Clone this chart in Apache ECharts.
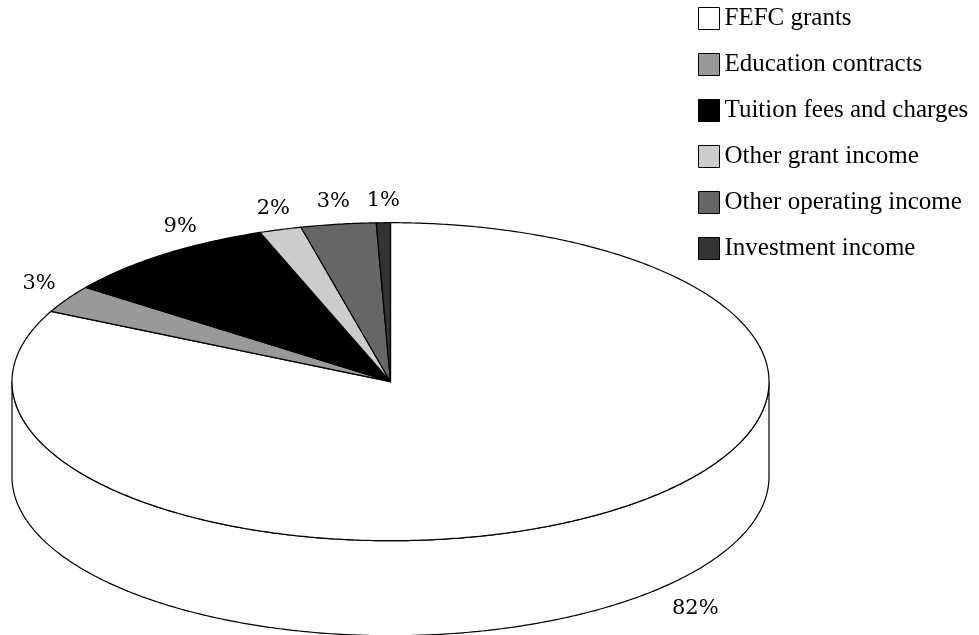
<!DOCTYPE html>
<html>
<head>
<meta charset="utf-8">
<script src="https://cdn.jsdelivr.net/npm/echarts@6/dist/echarts.min.js"></script>
<style>
  html, body { margin: 0; padding: 0; background: #fff; }
  #chart { width: 979px; height: 635px; }
</style>
</head>
<body>
<div id="chart"></div>
<script>
// Income sources and their shares of total income (%)
const categories = [
  'FEFC grants',
  'Education contracts',
  'Tuition fees and charges',
  'Other grant income',
  'Other operating income',
  'Investment income'
];
const shares = [82.3, 2.8, 9.3, 1.8, 3.2, 0.6];
const sliceColors = ['#ffffff', '#999999', '#000000', '#cccccc', '#666666', '#333333'];

// Tilted disc layout: centre, horizontal/vertical radii and wall height
const disc = { cx: 390.5, cy: 381.7, rx: 378.5, ry: 159, depth: 95 };
// Per-slice label shift away from the rim point at the slice's mid angle
const labelNudge = [[105, -3.5], [-28, -16], [17, -28], [-7, -21], [-5, -23], [0, -22]];

// Cumulative angles, clockwise from 12 o'clock
const total = shares.reduce((a, b) => a + b, 0);
let running = 0;
const spans = shares.map(v => {
  const start = running / total * 360;
  running += v;
  return [start, running / total * 360, v];
});

function rimPoint(deg, drop) {
  const r = deg * Math.PI / 180;
  return [disc.cx + disc.rx * Math.sin(r), disc.cy - disc.ry * Math.cos(r) + (drop || 0)];
}
function rimArc(a0, a1, drop) {
  const n = Math.max(2, Math.ceil(Math.abs(a1 - a0) / 0.5));
  const pts = [];
  for (let i = 0; i <= n; i++) pts.push(rimPoint(a0 + (a1 - a0) * i / n, drop));
  return pts;
}

function renderSlice(idx) {
  return function (params, api) {
    const a0 = api.value(0), a1 = api.value(1), v = api.value(2);
    const fill = sliceColors[idx];
    const children = [];
    // visible wall: the part of the slice on the near half (90°..270°)
    const f0 = Math.max(a0, 90), f1 = Math.min(a1, 270);
    if (f1 > f0) {
      const pts = rimArc(f0, f1, 0).concat(rimArc(f1, f0, disc.depth));
      children.push({
        type: 'polygon', z2: 1,
        shape: { points: pts },
        style: { fill: fill, stroke: '#000', lineWidth: 1.2, lineJoin: 'round' }
      });
    }
    // top face
    const face = [[disc.cx, disc.cy]].concat(rimArc(a0, a1, 0));
    children.push({
      type: 'polygon', z2: 2,
      shape: { points: face },
      style: { fill: fill, stroke: '#000', lineWidth: 1.2, lineJoin: 'round' }
    });
    // percentage label
    const mid = (a0 + a1) / 2;
    const near = Math.cos(mid * Math.PI / 180) < 0;
    const anchor = rimPoint(mid, near ? disc.depth : 0);
    children.push({
      type: 'text', z2: 3,
      style: {
        text: Math.round(v / total * 100) + '%',
        x: anchor[0] + labelNudge[idx][0],
        y: anchor[1] + labelNudge[idx][1],
        align: 'center', verticalAlign: 'middle',
        font: '21px "DejaVu Serif"', fill: '#000'
      }
    });
    return { type: 'group', children: children };
  };
}

const chart = echarts.init(document.getElementById('chart'), null, { renderer: 'canvas' });
chart.setOption({
  animation: false,
  backgroundColor: '#ffffff',
  legend: {
    orient: 'vertical',
    left: 698,
    top: 6,
    padding: 0,
    itemGap: 21,
    itemWidth: 21,
    itemHeight: 22,
    icon: 'rect',
    selectedMode: false,
    itemStyle: { borderColor: '#000', borderWidth: 1 },
    textStyle: { fontFamily: 'Liberation Serif', fontSize: 25, color: '#000' },
    data: categories
  },
  series: categories.map((name, i) => ({
    type: 'custom',
    name: name,
    coordinateSystem: 'none',
    silent: true,
    itemStyle: { color: sliceColors[i] },
    renderItem: renderSlice(i),
    data: [spans[i]]
  }))
});
</script>
</body>
</html>
